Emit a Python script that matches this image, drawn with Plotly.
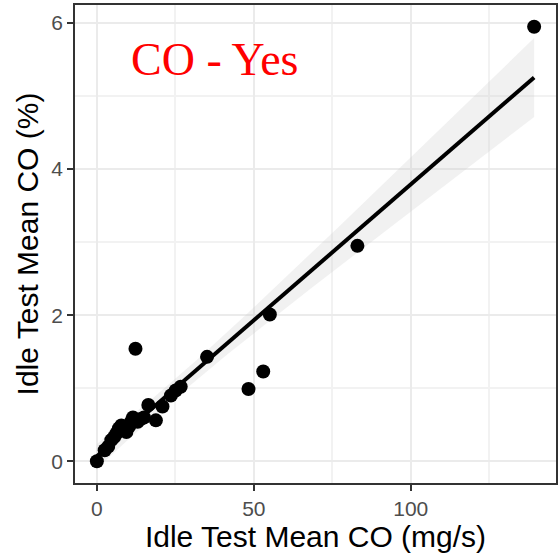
import numpy as np
import plotly.graph_objects as go

# Idle test measurements: mean CO emission rate (mg/s) vs mean CO concentration (%)
co_mgs = [0, 2.5, 3.6, 4.6, 5.5, 6.2, 7.0, 7.8, 8.5, 9.4, 10.3, 11.0, 11.5, 12.3,
          13.0, 14.1, 15.0, 16.4, 18.8, 20.9, 23.6, 25.1, 26.7, 35.1, 48.3, 53.0,
          55.1, 83.0, 139.3]
co_pct = [0, 0.15, 0.20, 0.29, 0.33, 0.38, 0.45, 0.49, 0.47, 0.40, 0.48, 0.55, 0.60,
          1.54, 0.54, 0.58, 0.60, 0.77, 0.56, 0.75, 0.90, 0.97, 1.02, 1.43, 0.99,
          1.23, 2.01, 2.95, 5.95]

x_ticks = [0, 50, 100]
y_ticks = [0, 2, 4, 6]

# Ordinary least-squares fit with a 95% confidence band
x = np.asarray(co_mgs, dtype=float)
y = np.asarray(co_pct, dtype=float)
n = len(x)
slope, intercept = np.polyfit(x, y, 1)
resid = y - (intercept + slope * x)
s = np.sqrt(np.sum(resid ** 2) / (n - 2))
sxx = np.sum((x - x.mean()) ** 2)
t_crit = 2.0518  # t(0.975, df=27)
xs = np.linspace(x.min(), x.max(), 80)
ys = intercept + slope * xs
se = s * np.sqrt(1.0 / n + (xs - x.mean()) ** 2 / sxx)
lo, hi = ys - t_crit * se, ys + t_crit * se

fig = go.Figure()
fig.add_trace(go.Scatter(
    x=np.concatenate([xs, xs[::-1]]), y=np.concatenate([hi, lo[::-1]]),
    fill="toself", fillcolor="rgba(200,200,200,0.25)", line=dict(width=0),
    mode="lines", hoverinfo="skip", showlegend=False))
fig.add_trace(go.Scatter(
    x=co_mgs, y=co_pct, mode="markers",
    marker=dict(color="black", size=14), showlegend=False))
fig.add_trace(go.Scatter(
    x=xs, y=ys, mode="lines", line=dict(color="black", width=4),
    showlegend=False))

pad_x = 0.05 * (x.max() - x.min())
pad_y = 0.05 * (y.max() - y.min())

axis_common = dict(
    showline=True, linecolor="#333333", linewidth=1.5, mirror=True,
    showgrid=True, gridcolor="#ebebeb", gridwidth=2,
    ticks="outside", ticklen=6, tickwidth=1.5, tickcolor="#333333",
    tickfont=dict(family="Liberation Sans, Arial", size=21, color="#4d4d4d"),
    zeroline=False,
)

fig.update_layout(
    width=558, height=555,
    margin=dict(l=75, r=0, t=5, b=72),
    paper_bgcolor="white", plot_bgcolor="white",
    xaxis=dict(
        **axis_common,
        range=[x.min() - pad_x, x.max() + pad_x],
        tickvals=x_ticks,
        minor=dict(dtick=25, tick0=25, showgrid=True, gridcolor="#f2f2f2", gridwidth=1.5, ticks=""),
        title=dict(text="Idle Test Mean CO (mg/s)", standoff=6,
                   font=dict(family="Liberation Sans, Arial", size=30, color="black")),
    ),
    yaxis=dict(
        **axis_common,
        range=[y.min() - pad_y, y.max() + pad_y],
        tickvals=y_ticks,
        minor=dict(dtick=1, tick0=1, showgrid=True, gridcolor="#f2f2f2", gridwidth=1.5, ticks=""),
        title=dict(text="Idle Test Mean CO (%)", standoff=4,
                   font=dict(family="Liberation Sans, Arial", size=30, color="black")),
    ),
    annotations=[dict(
        text="CO - Yes", xref="paper", yref="paper", x=0.29, y=0.887,
        xanchor="center", yanchor="middle", showarrow=False,
        font=dict(family="Liberation Serif, Times New Roman", size=46, color="red"),
    )],
)

fig.write_html("out.html")
